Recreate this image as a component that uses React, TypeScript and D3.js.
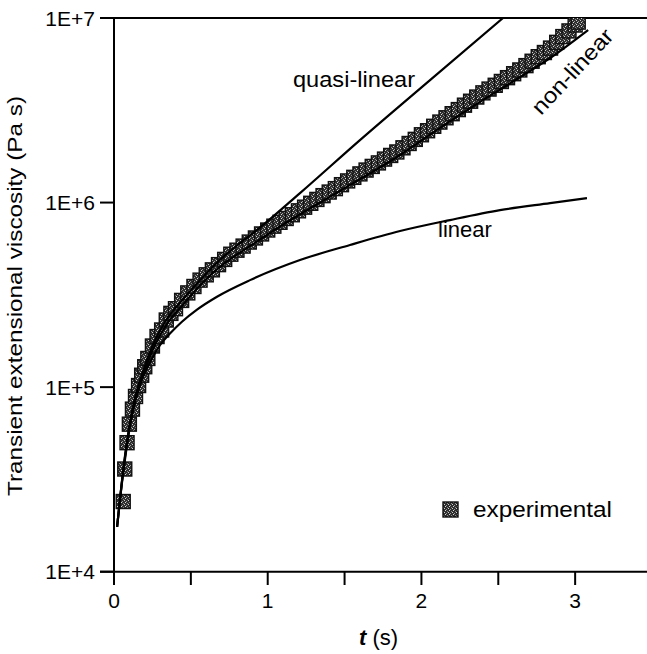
import React from "react";
import * as d3 from "d3";

const expT = [0.06, 0.07, 0.085, 0.1, 0.12, 0.14, 0.16, 0.18, 0.2, 0.22, 0.25, 0.28, 0.31, 0.34, 0.37, 0.4, 0.44,
  0.48, 0.52, 0.56, 0.6, 0.64, 0.68, 0.72, 0.76, 0.8, 0.84, 0.88, 0.92, 0.96, 1.0, 1.04, 1.08, 1.12, 1.16, 1.2,
  1.24, 1.28, 1.32, 1.36, 1.4, 1.44, 1.48, 1.52, 1.56, 1.6, 1.64, 1.68, 1.72, 1.76, 1.8, 1.84, 1.88, 1.92, 1.96,
  2.0, 2.04, 2.08, 2.12, 2.16, 2.2, 2.24, 2.28, 2.32, 2.36, 2.4, 2.44, 2.48, 2.52, 2.56, 2.6, 2.64, 2.68, 2.72,
  2.76, 2.8, 2.84, 2.88, 2.92, 2.96, 3.0, 3.02];
const expEta = [2.4e4, 3.6e4, 5.0e4, 6.3e4, 7.6e4, 8.9e4, 1.02e5, 1.16e5, 1.29e5, 1.43e5, 1.67e5, 1.88e5, 2.04e5,
  2.31e5, 2.51e5, 2.66e5, 2.95e5, 3.24e5, 3.51e5, 3.8e5, 4.06e5, 4.32e5, 4.61e5, 4.92e5, 5.25e5, 5.52e5, 5.81e5,
  6.11e5, 6.43e5, 6.76e5, 7.1e5, 7.45e5, 7.82e5, 8.2e5, 8.59e5, 9.02e5, 9.44e5, 9.91e5, 1.04e6, 1.09e6, 1.14e6,
  1.19e6, 1.25e6, 1.31e6, 1.37e6, 1.43e6, 1.5e6, 1.57e6, 1.64e6, 1.72e6, 1.8e6, 1.88e6, 1.98e6, 2.09e6, 2.2e6,
  2.33e6, 2.45e6, 2.59e6, 2.73e6, 2.88e6, 3.03e6, 3.19e6, 3.37e6, 3.54e6, 3.73e6, 3.93e6, 4.12e6, 4.32e6, 4.53e6,
  4.75e6, 4.99e6, 5.23e6, 5.52e6, 5.83e6, 6.17e6, 6.5e6, 6.87e6, 7.38e6, 7.93e6, 8.51e6, 9.16e6, 9.5e6];

const linT = [0.02, 0.046, 0.078, 0.117, 0.169, 0.234, 0.299, 0.364, 0.442, 0.54, 0.67, 0.885, 1.21, 1.535, 1.861,
  2.186, 2.511, 2.837, 3.077];
const linEta = [1.75e4, 2.77e4, 4.45e4, 7.05e4, 1.03e5, 1.36e5, 1.69e5, 1.95e5, 2.26e5, 2.63e5, 3.09e5, 3.8e5,
  4.88e5, 5.89e5, 7.01e5, 8.04e5, 9.1e5, 9.93e5, 1.057e6];

const quasiT = [0.02, 0.05, 0.08, 0.12, 0.18, 0.25, 0.34, 0.45, 0.56, 0.69, 0.82, 0.93, 1.21, 1.6, 2.056, 2.531];
const quasiEta = [1.75e4, 3.0e4, 4.8e4, 7.6e4, 1.16e5, 1.67e5, 2.31e5, 3.0e5, 3.8e5, 4.9e5, 6.03e5, 7.1e5, 1.125e6,
  2.18e6, 4.61e6, 1.0e7];

const nonT = [0.02, 0.05, 0.08, 0.12, 0.18, 0.25, 0.34, 0.45, 0.56, 0.995, 1.425, 1.861, 2.121, 2.381, 2.622, 2.837,
  3.084];
const nonEta = [1.75e4, 3.0e4, 4.7e4, 7.3e4, 1.1e5, 1.58e5, 2.17e5, 2.8e5, 3.57e5, 6.67e5, 1.1e6, 1.81e6, 2.54e6,
  3.51e6, 4.67e6, 6.07e6, 8.61e6];

const xTicks = [0, 0.5, 1, 1.5, 2, 2.5, 3, 3.5];
const xTickLabels = ["0", "", "1", "", "2", "", "3", ""];
const yTicks = [1e4, 1e5, 1e6, 1e7];
const yTickLabels = ["1E+4", "1E+5", "1E+6", "1E+7"];

const FONT = "'Liberation Sans', Arial, Helvetica, sans-serif";

export default function App() {
  const W = 647, H = 654;
  const x = d3.scaleLinear().domain([0, 3.5]).range([114, 652]);
  const y = d3.scaleLog().domain([1e4, 1e7]).range([571.7, 18]);
  const line = d3.line<[number, number]>().x(d => x(d[0])).y(d => y(d[1])).curve(d3.curveMonotoneX);
  const mk = (t: number[], v: number[]) => line(t.map((ti, i) => [ti, v[i]] as [number, number])) || "";
  const sq = 14;

  return (
    <svg width={W} height={H} style={{ position: "absolute", left: 0, top: 0, background: "#fff" }}>
      <defs>
        <pattern id="tex" width="4" height="4" patternUnits="userSpaceOnUse">
          <rect width="4" height="4" fill="#2e2e2e" />
          <rect x="0" y="0" width="1" height="1" fill="#cfcfcf" />
          <rect x="2" y="1" width="1" height="1" fill="#9a9a9a" />
          <rect x="1" y="2" width="1" height="1" fill="#d8d8d8" />
          <rect x="3" y="3" width="1" height="1" fill="#8a8a8a" />
        </pattern>
        <clipPath id="plot">
          <rect x={114} y={18} width={W - 114} height={571.7 - 18} />
        </clipPath>
      </defs>

      {/* axes */}
      <g stroke="#000" strokeWidth={2} fill="none">
        <line x1={x(0)} x2={x(0)} y1={y(1e7)} y2={585} />
        <line x1={100} x2={W} y1={y(1e4)} y2={y(1e4)} />
        <line x1={100} x2={W} y1={y(1e7)} y2={y(1e7)} />
        {yTicks.map(t => (
          <line key={t} x1={100} x2={x(0)} y1={y(t)} y2={y(t)} />
        ))}
        {xTicks.map(t => (
          <line key={t} x1={x(t)} x2={x(t)} y1={y(1e4)} y2={585} />
        ))}
      </g>
      <g fontFamily={FONT} fontSize={21} fill="#000">
        {yTicks.map((t, i) => (
          <text key={t} x={95} y={y(t)} textAnchor="end" dominantBaseline="central">{yTickLabels[i]}</text>
        ))}
        {xTicks.map((t, i) => (
          <text key={t} x={x(t)} y={608} textAnchor="middle">{xTickLabels[i]}</text>
        ))}
      </g>

      {/* data */}
      <g clipPath="url(#plot)">
        {expT.map((t, i) => (
          <rect key={i} x={x(t) - sq / 2} y={y(expEta[i]) - sq / 2} width={sq} height={sq}
            fill="url(#tex)" stroke="#111" strokeWidth={1.4} />
        ))}
        <g fill="none" stroke="#000" strokeWidth={2.2}>
          <path d={mk(linT, linEta)} />
          <path d={mk(quasiT, quasiEta)} />
          <path d={mk(nonT, nonEta)} />
        </g>
      </g>

      {/* labels */}
      <g fontFamily={FONT} fontSize={22} fill="#000">
        <text x={293} y={87} textLength={122} lengthAdjust="spacingAndGlyphs">quasi-linear</text>
        <text x={438} y={237}>linear</text>
        <text x={0} y={0} transform="translate(541,116) rotate(-47)" textLength={108} lengthAdjust="spacingAndGlyphs">non-linear</text>
        <text x={473} y={517} textLength={139} lengthAdjust="spacingAndGlyphs">experimental</text>
        <text transform="translate(22,296) rotate(-90)" textAnchor="middle" fontSize={21} textLength={400} lengthAdjust="spacingAndGlyphs">
          Transient extensional viscosity (Pa s)
        </text>
        <text x={359} y={645} fontSize={22}>
          <tspan fontWeight="bold" fontStyle="italic">t</tspan>
          <tspan> (s)</tspan>
        </text>
      </g>
      <rect x={443} y={502} width={15} height={15} fill="url(#tex)" stroke="#111" strokeWidth={1.4} />
    </svg>
  );
}
